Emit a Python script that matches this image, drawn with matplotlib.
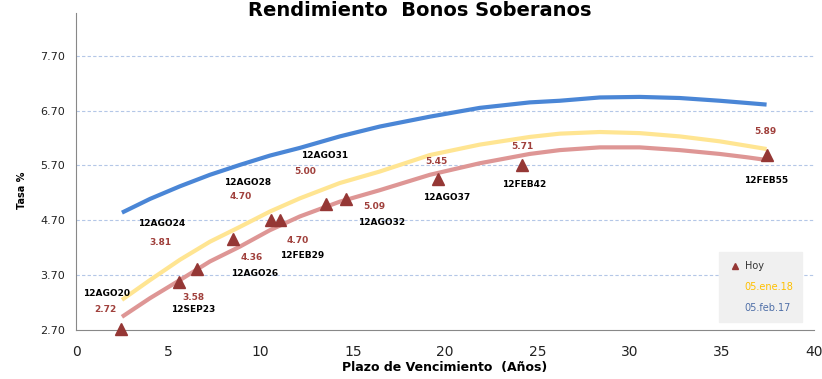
import numpy as np
import matplotlib.pyplot as plt
from matplotlib.lines import Line2D

# bonos de hoy
plazo = [2.44, 5.58, 6.55, 8.50, 10.56, 11.05, 13.54, 14.63, 19.61, 24.2, 37.43]
tasa = [2.72, 3.58, 3.81, 4.36, 4.70, 4.70, 5.00, 5.09, 5.45, 5.71, 5.89]
nombres = ['12AGO20', '12SEP23', '12AGO24', '12AGO26', '12AGO28', '12FEB29',
           '12AGO31', '12AGO32', '12AGO37', '12FEB42', '12FEB55']

# curvas ajustadas
curva_x = [2.49, 4.01, 5.63, 7.26, 8.88, 10.51, 12.13, 14.30, 16.47, 19.18,
           21.88, 24.59, 26.22, 28.39, 30.55, 32.72, 34.89, 36.35, 37.43]
curva_hoy = [2.94, 3.28, 3.61, 3.95, 4.22, 4.52, 4.77, 5.04, 5.25, 5.53,
             5.74, 5.91, 5.98, 6.03, 6.03, 5.98, 5.91, 5.85, 5.80]
curva_ene18 = [3.25, 3.61, 3.98, 4.31, 4.58, 4.86, 5.10, 5.38, 5.59, 5.89,
               6.08, 6.22, 6.28, 6.31, 6.29, 6.23, 6.14, 6.06, 6.00]
curva_feb17 = [4.84, 5.09, 5.32, 5.53, 5.71, 5.88, 6.02, 6.23, 6.41, 6.59,
               6.75, 6.85, 6.88, 6.94, 6.95, 6.93, 6.88, 6.84, 6.81]

# offsets de etiquetas en pixeles: (nombre dx, dy, valor dx, dy)
offsets = [(-14, 35, -16, 19), (14, -28, 14, -16), (-35, 46, -36, 27),
           (22, -35, 19, -19), (-23, 38, -30, 24), (22, -35, 18, -20),
           (-1, 48, -21, 32), (36, -24, 28, -8), (9, -18, -1, 18),
           (2, -20, 0, 18), (0, -25, -1, 24)]

fig = plt.figure(figsize=(8.22, 3.79), dpi=100)
ax = fig.add_axes([76/822, 49/379, 738/822, 317/379])

ax.plot(curva_x, curva_feb17, color='#4A86D6', linewidth=3, solid_capstyle='butt')
ax.plot(curva_x, curva_ene18, color='#FFE592', linewidth=3, solid_capstyle='butt')
ax.plot(curva_x, curva_hoy, color='#DE9695', linewidth=3, solid_capstyle='butt')
ax.plot(plazo, tasa, linestyle='none', marker='^', markersize=8, color='#953735',
        zorder=5, clip_on=False)

for x, y, n, o in zip(plazo, tasa, nombres, offsets):
    ax.annotate(n, (x, y), xytext=(o[0], o[1]), textcoords='offset pixels',
                ha='center', va='center', fontsize=6.5, fontweight='bold', color='black')
    ax.annotate('%.2f' % y, (x, y), xytext=(o[2], o[3]), textcoords='offset pixels',
                ha='center', va='center', fontsize=6.5, fontweight='bold', color='#A0403C')

ax.set_xlim(0, 40)
ax.set_ylim(2.70, 8.48)
ax.set_xticks(np.arange(0, 41, 5))
ax.set_yticks([2.70, 3.70, 4.70, 5.70, 6.70, 7.70])
ax.set_yticklabels(['2.70', '3.70', '4.70', '5.70', '6.70', '7.70'])
ax.tick_params(axis='x', length=0, labelsize=10, pad=11, colors='#222222')
ax.tick_params(axis='y', length=0, labelsize=8, pad=8, colors='#222222')
for y in [3.70, 4.70, 5.70, 6.70, 7.70]:
    ax.axhline(y, color='#B4C7E7', linestyle=(0, (3, 2)), linewidth=0.8, zorder=0)

for s in ['top', 'right']:
    ax.spines[s].set_visible(False)
ax.spines['left'].set_color('#888888')
ax.spines['bottom'].set_color('#888888')

ax.set_xlabel('Plazo de Vencimiento  (Años)', fontsize=9, fontweight='bold', labelpad=1)
ax.set_ylabel('Tasa %', fontsize=7, fontweight='bold')
ax.yaxis.set_label_coords(-0.066, 0.44)

fig.text(420/822, 0.997, 'Rendimiento  Bonos Soberanos', ha='center', va='top',
         fontsize=14, fontweight='bold')

handles = [Line2D([], [], linestyle='none', marker='^', markersize=5, color='#953735'),
           Line2D([], [], linestyle='none'),
           Line2D([], [], linestyle='none')]
leg = ax.legend(handles, ['Hoy', '05.ene.18', '05.feb.17'], loc='lower right',
                bbox_to_anchor=(0.984, 0.025), borderaxespad=0, fontsize=7,
                frameon=True, fancybox=False,
                facecolor='#F0F0F0', edgecolor='#F0F0F0', framealpha=1,
                labelcolor=['#333333', '#FFC000', '#4F6FA8'], labelspacing=1.15,
                handlelength=1.4, handletextpad=0.3, borderpad=0.9)

fig.savefig('out.png', dpi=100)
